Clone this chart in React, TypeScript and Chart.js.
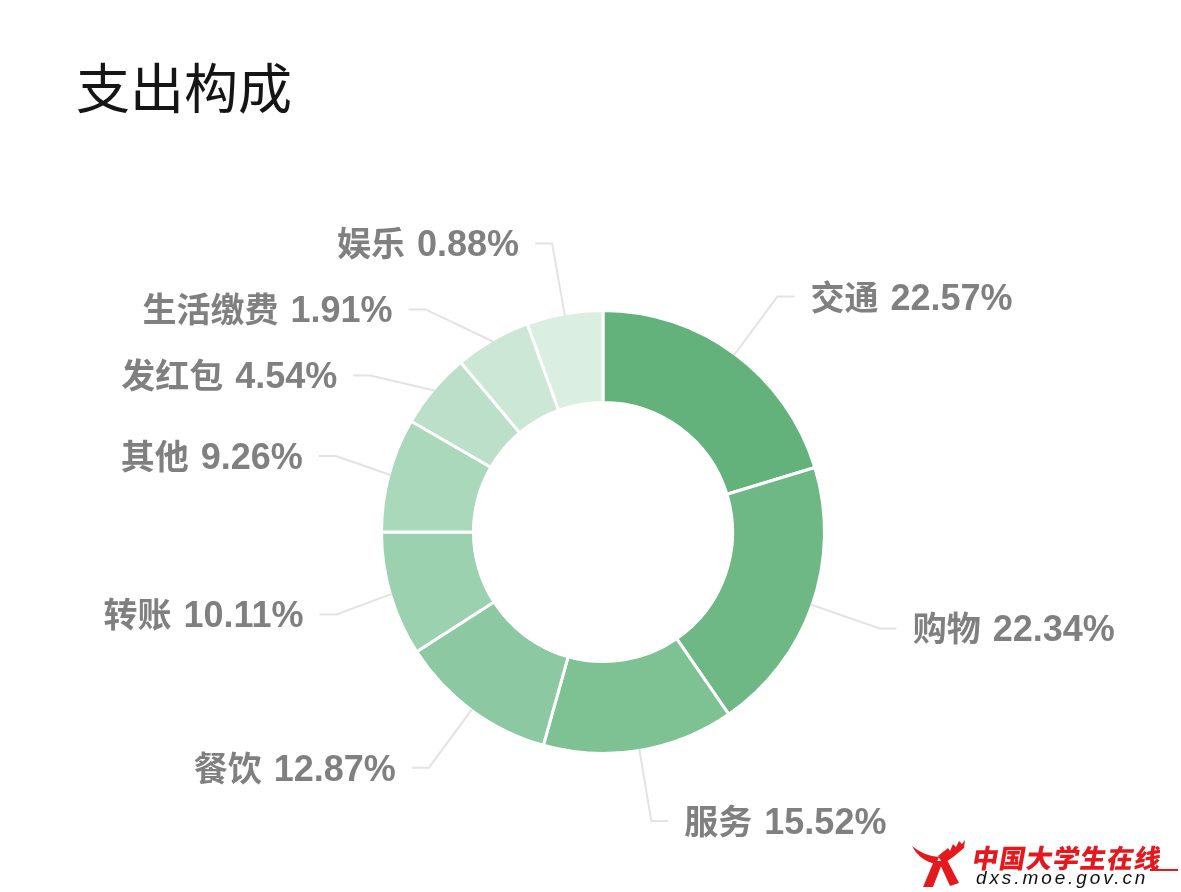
import React, { useEffect, useRef } from "react";
import { Chart, registerables } from "chart.js";

Chart.register(...registerables);

const categories = ["交通", "购物", "服务", "餐饮", "转账", "其他", "发红包", "生活缴费", "娱乐"];
const percents = [22.57, 22.34, 15.52, 12.87, 10.11, 9.26, 4.54, 1.91, 0.88];
const sliceColors = ["#63b27b", "#6eb886", "#7ec294", "#8cc8a1", "#9bd1af", "#aad8ba", "#bbdfc8", "#cce7d6", "#dbeee2"];
const MIN_ANGLE = 20;

// ECharts-like minAngle: small slices get the minimum angle, the rest share the remainder proportionally
function applyMinAngle(values: number[], minAngle: number): number[] {
  const total = values.reduce((a, b) => a + b, 0);
  const small = values.map((v) => (v / total) * 360 < minAngle);
  const fixed = small.filter(Boolean).length * minAngle;
  const restSum = values.reduce((a, v, i) => (small[i] ? a : a + v), 0);
  return values.map((v, i) => (small[i] ? minAngle : (v / restSum) * (360 - fixed)));
}

const LINE_LEN = 73;
const LINE_LEN2 = 17;
const LABEL_DIST = 16;
const MIN_GAP = 66;
const CAT_FONT = "bold 34px 'Noto Sans CJK SC', sans-serif";
const VAL_FONT = "bold 36px 'Liberation Sans', 'Noto Sans CJK SC', sans-serif";
const WORD_GAP = 12;

const labelPlugin = {
  id: "outerLabels",
  afterDraw(chart: any) {
    const meta = chart.getDatasetMeta(0);
    const ctx = chart.ctx as CanvasRenderingContext2D;
    const items = meta.data.map((arc: any, i: number) => {
      const p = arc.getProps(["x", "y", "startAngle", "endAngle", "outerRadius"], true);
      const mid = (p.startAngle + p.endAngle) / 2;
      const c = Math.cos(mid);
      const s = Math.sin(mid);
      const r0 = p.outerRadius - 1.5;
      const rA = r0 + LINE_LEN;
      const side = c >= 0 ? 1 : -1;
      const x2 = p.x + c * rA;
      const y2 = p.y + s * rA;
      return {
        i,
        cx: p.x,
        cy: p.y,
        sx: p.x + c * r0,
        sy: p.y + s * r0,
        rA,
        side,
        labelX: x2 + side * (LINE_LEN2 + LABEL_DIST),
        labelY: y2,
      };
    });
    [1, -1].forEach((side) => {
      const list = items.filter((it: any) => it.side === side).sort((a: any, b: any) => a.labelY - b.labelY);
      let shifted = false;
      for (let k = 1; k < list.length; k++) {
        if (list[k].labelY < list[k - 1].labelY + MIN_GAP) {
          list[k].labelY = list[k - 1].labelY + MIN_GAP;
          shifted = true;
        }
      }
      if (!shifted) return;
      const semis = [
        { list: [] as any[], maxY: 0, rB: 0 },
        { list: [] as any[], maxY: 0, rB: 0 },
      ];
      list.forEach((it: any) => {
        const semi = it.labelY > it.cy ? semis[1] : semis[0];
        const dy = Math.abs(it.labelY - it.cy);
        if (dy >= semi.maxY) {
          const dx0 = it.labelX - it.cx - LINE_LEN2 * side;
          semi.rB = Math.abs(dx0) < it.rA ? Math.sqrt((dy * dy) / (1 - (dx0 * dx0) / (it.rA * it.rA))) : it.rA;
          semi.maxY = dy;
        }
        semi.list.push(it);
      });
      semis.forEach((semi) => {
        semi.list.forEach((it: any) => {
          const dy = Math.abs(it.labelY - it.cy);
          const dx = Math.sqrt(Math.max(1 - (dy * dy) / (semi.rB * semi.rB), 0) * it.rA * it.rA);
          it.labelX = it.cx + (dx + LINE_LEN2) * side;
        });
      });
    });
    ctx.save();
    items.forEach((it: any) => {
      const endX = it.labelX - it.side * LABEL_DIST;
      const elbowX = endX - it.side * LINE_LEN2;
      ctx.strokeStyle = "#e3e3e3";
      ctx.lineWidth = 2;
      ctx.beginPath();
      ctx.moveTo(it.sx, it.sy);
      ctx.lineTo(elbowX, it.labelY);
      ctx.lineTo(endX, it.labelY);
      ctx.stroke();

      const cat = categories[it.i];
      const val = `${percents[it.i].toFixed(2)}%`;
      ctx.font = CAT_FONT;
      const wCat = ctx.measureText(cat).width;
      ctx.font = VAL_FONT;
      const wVal = ctx.measureText(val).width;
      const total = wCat + WORD_GAP + wVal;
      const left = it.side > 0 ? it.labelX : it.labelX - total;
      const base = it.labelY + 13;
      ctx.fillStyle = "#808080";
      ctx.textAlign = "left";
      ctx.textBaseline = "alphabetic";
      ctx.font = CAT_FONT;
      ctx.fillText(cat, left, base);
      ctx.font = VAL_FONT;
      ctx.fillText(val, left + wCat + WORD_GAP, base);
    });
    ctx.restore();
  },
};

export default function App() {
  const canvasRef = useRef<HTMLCanvasElement | null>(null);

  useEffect(() => {
    if (!canvasRef.current) return;
    const chart = new Chart(canvasRef.current, {
      type: "doughnut",
      data: {
        labels: categories,
        datasets: [
          {
            data: applyMinAngle(percents, MIN_ANGLE),
            backgroundColor: sliceColors,
            borderColor: "#ffffff",
            borderWidth: 3,
          },
        ],
      },
      options: {
        responsive: false,
        animation: false,
        cutout: "58.5%",
        layout: { padding: { left: 380, top: 309, right: 355, bottom: 137 } },
        plugins: {
          legend: { display: false },
          tooltip: { enabled: false },
          title: { display: false },
        },
      },
      plugins: [labelPlugin],
    });
    return () => chart.destroy();
  }, []);

  return (
    <div style={{ position: "fixed", left: 0, top: 0, width: 1181, height: 892, background: "#fff", overflow: "hidden" }}>
      <canvas ref={canvasRef} width={1181} height={892} style={{ position: "absolute", left: 0, top: 0 }} />
      <div
        style={{
          position: "absolute",
          left: 76,
          top: 59,
          fontFamily: "'Noto Sans CJK SC', sans-serif",
          fontSize: 54,
          lineHeight: "54px",
          color: "#151515",
          whiteSpace: "nowrap",
        }}
      >
        支出构成
      </div>
      <svg width={56} height={52} viewBox="0 0 56 52" style={{ position: "absolute", left: 912, top: 837 }}>
        <path d="M0,9 Q12,19 27,20 L24,27 Q8,24 0,9 Z" fill="#e3191e" />
        <path d="M26,19 L36,11 L38,14 L41,7 L44,10 L47,4 L50,7 L53,3 L52,11 Q42,20 31,27 Z" fill="#e3191e" />
        <path d="M22,24 L31,24 L21,50 L11,50 Z" fill="#e3191e" />
        <path d="M27,25 L34,21 L47,46 L38,49 Z" fill="#e3191e" />
      </svg>
      <div
        style={{
          position: "absolute",
          left: 973,
          top: 844,
          fontFamily: "'Noto Sans CJK SC', sans-serif",
          fontWeight: 900,
          fontSize: 26,
          lineHeight: "26px",
          letterSpacing: 1,
          color: "#e3191e",
          whiteSpace: "nowrap",
          transform: "skewX(-10deg)",
        }}
      >
        中国大学生在线
      </div>
      <div style={{ position: "absolute", left: 1150, top: 869, width: 28, height: 2, background: "#e3191e" }} />
      <div
        style={{
          position: "absolute",
          left: 976,
          top: 868,
          fontFamily: "'Liberation Sans', sans-serif",
          fontStyle: "italic",
          fontSize: 19,
          lineHeight: "19px",
          letterSpacing: 2.9,
          color: "#111",
          whiteSpace: "nowrap",
        }}
      >
        dxs.moe.gov.cn
      </div>
    </div>
  );
}
